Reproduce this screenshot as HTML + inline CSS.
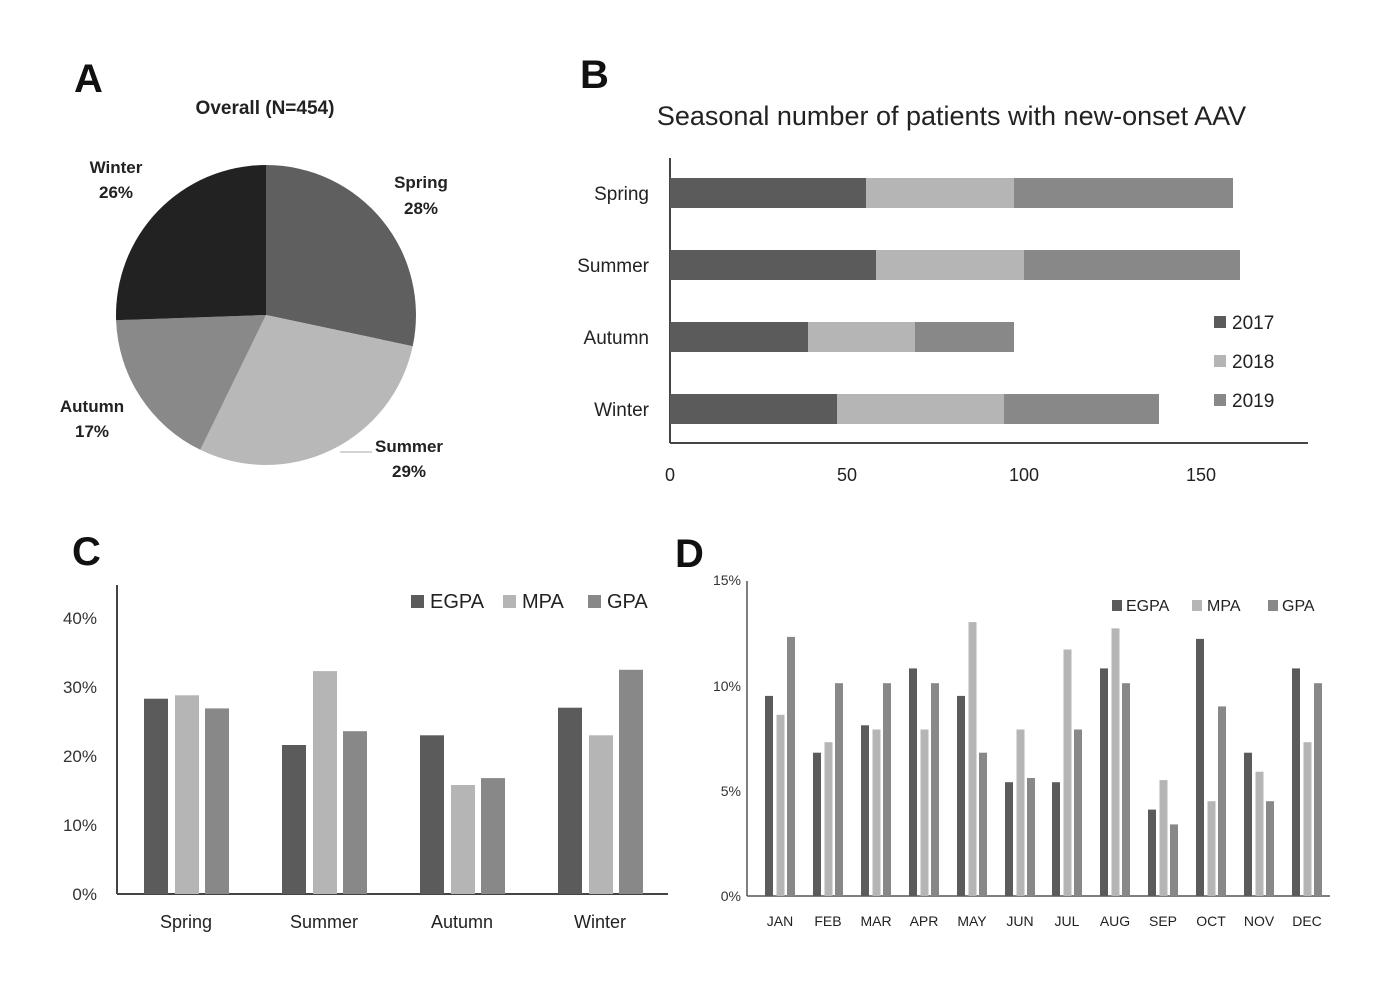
<!DOCTYPE html>
<html><head><meta charset="utf-8"><style>body{margin:0;background:#fff}svg{display:block}text{font-family:"Liberation Sans",sans-serif}</style></head>
<body>
<svg width="1381" height="981" viewBox="0 0 1381 981" xmlns="http://www.w3.org/2000/svg">
<rect width="1381" height="981" fill="#fff"/>
<!-- A -->
<text x="74" y="92" font-size="40" font-weight="bold" fill="#111">A</text>
<text x="265" y="114" font-size="19" font-weight="bold" text-anchor="middle" fill="#222">Overall (N=454)</text>
<path d="M266 315 L266 165 A150 150 0 0 1 412.7 346.2 Z" fill="#5f5f5f"/>
<path d="M266 315 L412.7 346.2 A150 150 0 0 1 200.3 449.8 Z" fill="#b8b8b8"/>
<path d="M266 315 L200.3 449.8 A150 150 0 0 1 116.1 320.2 Z" fill="#898989"/>
<path d="M266 315 L116.1 320.2 A150 150 0 0 1 266 165 Z" fill="#222"/>
<line x1="340" y1="452" x2="372" y2="452" stroke="#aaa" stroke-width="1"/>
<g font-size="17" font-weight="bold" fill="#222" text-anchor="middle">
<text x="116" y="173">Winter</text><text x="116" y="198">26%</text>
<text x="421" y="188">Spring</text><text x="421" y="214">28%</text>
<text x="92" y="412">Autumn</text><text x="92" y="437">17%</text>
<text x="409" y="452">Summer</text><text x="409" y="477">29%</text>
</g>
<!-- B -->
<text x="580" y="88" font-size="40" font-weight="bold" fill="#111">B</text>
<text x="951.5" y="125" font-size="27" text-anchor="middle" fill="#222">Seasonal number of patients with new-onset AAV</text>
<line x1="670" y1="158" x2="670" y2="443" stroke="#444" stroke-width="2"/>
<line x1="670" y1="443" x2="1308" y2="443" stroke="#444" stroke-width="2"/>
<g>
<rect x="670" y="178" width="196" height="30" fill="#5b5b5b"/><rect x="866" y="178" width="148" height="30" fill="#b5b5b5"/><rect x="1014" y="178" width="219" height="30" fill="#888"/>
<rect x="670" y="250" width="206" height="30" fill="#5b5b5b"/><rect x="876" y="250" width="148" height="30" fill="#b5b5b5"/><rect x="1024" y="250" width="216" height="30" fill="#888"/>
<rect x="670" y="322" width="138" height="30" fill="#5b5b5b"/><rect x="808" y="322" width="107" height="30" fill="#b5b5b5"/><rect x="915" y="322" width="99" height="30" fill="#888"/>
<rect x="670" y="394" width="167" height="30" fill="#5b5b5b"/><rect x="837" y="394" width="167" height="30" fill="#b5b5b5"/><rect x="1004" y="394" width="155" height="30" fill="#888"/>
</g>
<g font-size="19" fill="#222" text-anchor="end">
<text x="649" y="200">Spring</text><text x="649" y="272">Summer</text><text x="649" y="344">Autumn</text><text x="649" y="416">Winter</text>
</g>
<g font-size="18" fill="#222" text-anchor="middle">
<text x="670" y="481">0</text><text x="847" y="481">50</text><text x="1024" y="481">100</text><text x="1201" y="481">150</text>
</g>
<rect x="1214" y="316" width="12" height="12" fill="#5b5b5b"/><text x="1232" y="329" font-size="19" fill="#222">2017</text>
<rect x="1214" y="355" width="12" height="12" fill="#b5b5b5"/><text x="1232" y="368" font-size="19" fill="#222">2018</text>
<rect x="1214" y="394" width="12" height="12" fill="#888"/><text x="1232" y="407" font-size="19" fill="#222">2019</text>
<!-- C -->
<text x="72" y="565" font-size="40" font-weight="bold" fill="#111">C</text>
<line x1="117" y1="585" x2="117" y2="894" stroke="#444" stroke-width="2"/>
<line x1="117" y1="894" x2="668" y2="894" stroke="#444" stroke-width="2"/>
<g font-size="17" fill="#333" text-anchor="end">
<text x="97" y="900">0%</text><text x="97" y="831">10%</text><text x="97" y="762">20%</text><text x="97" y="693">30%</text><text x="97" y="624">40%</text>
</g>
<g>
<rect x="144" y="698.7" width="24" height="195.3" fill="#5b5b5b"/><rect x="175" y="695.3" width="24" height="198.7" fill="#b5b5b5"/><rect x="205" y="708.4" width="24" height="185.6" fill="#888"/>
<rect x="282" y="745" width="24" height="149" fill="#5b5b5b"/><rect x="313" y="671.1" width="24" height="222.9" fill="#b5b5b5"/><rect x="343" y="731.2" width="24" height="162.8" fill="#888"/>
<rect x="420" y="735.3" width="24" height="158.7" fill="#5b5b5b"/><rect x="451" y="785" width="24" height="109" fill="#b5b5b5"/><rect x="481" y="778.1" width="24" height="115.9" fill="#888"/>
<rect x="558" y="707.7" width="24" height="186.3" fill="#5b5b5b"/><rect x="589" y="735.3" width="24" height="158.7" fill="#b5b5b5"/><rect x="619" y="669.8" width="24" height="224.2" fill="#888"/>
</g>
<g font-size="18" fill="#222" text-anchor="middle">
<text x="186" y="928">Spring</text><text x="324" y="928">Summer</text><text x="462" y="928">Autumn</text><text x="600" y="928">Winter</text>
</g>
<rect x="411" y="595" width="13" height="13" fill="#5b5b5b"/><text x="430" y="608" font-size="20" fill="#222">EGPA</text>
<rect x="503" y="595" width="13" height="13" fill="#b5b5b5"/><text x="522" y="608" font-size="20" fill="#222">MPA</text>
<rect x="588" y="595" width="13" height="13" fill="#888"/><text x="607" y="608" font-size="20" fill="#222">GPA</text>
<!-- D -->
<text x="675" y="567" font-size="40" font-weight="bold" fill="#111">D</text>
<line x1="747" y1="581" x2="747" y2="896" stroke="#555" stroke-width="1.5"/>
<line x1="747" y1="896" x2="1330" y2="896" stroke="#555" stroke-width="1.5"/>
<g font-size="14" fill="#333" text-anchor="end">
<text x="741" y="901">0%</text><text x="741" y="796">5%</text><text x="741" y="691">10%</text><text x="741" y="585">15%</text>
</g>
<g font-size="14" fill="#222" text-anchor="middle">
<text x="780" y="926">JAN</text><text x="828" y="926">FEB</text><text x="876" y="926">MAR</text><text x="924" y="926">APR</text><text x="972" y="926">MAY</text><text x="1020" y="926">JUN</text><text x="1067" y="926">JUL</text><text x="1115" y="926">AUG</text><text x="1163" y="926">SEP</text><text x="1211" y="926">OCT</text><text x="1259" y="926">NOV</text><text x="1307" y="926">DEC</text>
</g>
<rect x="1112" y="600" width="10" height="11" fill="#5b5b5b"/><text x="1126" y="611" font-size="16" fill="#222">EGPA</text>
<rect x="1192" y="600" width="10" height="11" fill="#b5b5b5"/><text x="1207" y="611" font-size="16" fill="#222">MPA</text>
<rect x="1268" y="600" width="10" height="11" fill="#888"/><text x="1282" y="611" font-size="16" fill="#222">GPA</text>
<g>
<rect x="765" y="695.9" width="8" height="200.1" fill="#5b5b5b"/><rect x="776.5" y="714.8" width="8" height="181.2" fill="#b5b5b5"/><rect x="787" y="636.9" width="8" height="259.1" fill="#888"/>
<rect x="813" y="752.7" width="8" height="143.3" fill="#5b5b5b"/><rect x="824.5" y="742.2" width="8" height="153.8" fill="#b5b5b5"/><rect x="835" y="683.2" width="8" height="212.8" fill="#888"/>
<rect x="861" y="725.3" width="8" height="170.7" fill="#5b5b5b"/><rect x="872.5" y="729.5" width="8" height="166.5" fill="#b5b5b5"/><rect x="883" y="683.2" width="8" height="212.8" fill="#888"/>
<rect x="909" y="668.4" width="8" height="227.6" fill="#5b5b5b"/><rect x="920.5" y="729.5" width="8" height="166.5" fill="#b5b5b5"/><rect x="931" y="683.2" width="8" height="212.8" fill="#888"/>
<rect x="957" y="695.9" width="8" height="200.1" fill="#5b5b5b"/><rect x="968.5" y="622.1" width="8" height="273.9" fill="#b5b5b5"/><rect x="979" y="752.7" width="8" height="143.3" fill="#888"/>
<rect x="1005" y="782.2" width="8" height="113.8" fill="#5b5b5b"/><rect x="1016.5" y="729.5" width="8" height="166.5" fill="#b5b5b5"/><rect x="1027" y="778" width="8" height="118" fill="#888"/>
<rect x="1052" y="782.2" width="8" height="113.8" fill="#5b5b5b"/><rect x="1063.5" y="649.5" width="8" height="246.5" fill="#b5b5b5"/><rect x="1074" y="729.5" width="8" height="166.5" fill="#888"/>
<rect x="1100" y="668.4" width="8" height="227.6" fill="#5b5b5b"/><rect x="1111.5" y="628.4" width="8" height="267.6" fill="#b5b5b5"/><rect x="1122" y="683.2" width="8" height="212.8" fill="#888"/>
<rect x="1148" y="809.6" width="8" height="86.4" fill="#5b5b5b"/><rect x="1159.5" y="780.1" width="8" height="115.9" fill="#b5b5b5"/><rect x="1170" y="824.4" width="8" height="71.6" fill="#888"/>
<rect x="1196" y="638.9" width="8" height="257.1" fill="#5b5b5b"/><rect x="1207.5" y="801.2" width="8" height="94.8" fill="#b5b5b5"/><rect x="1218" y="706.4" width="8" height="189.6" fill="#888"/>
<rect x="1244" y="752.7" width="8" height="143.3" fill="#5b5b5b"/><rect x="1255.5" y="771.7" width="8" height="124.3" fill="#b5b5b5"/><rect x="1266" y="801.2" width="8" height="94.8" fill="#888"/>
<rect x="1292" y="668.4" width="8" height="227.6" fill="#5b5b5b"/><rect x="1303.5" y="742.2" width="8" height="153.8" fill="#b5b5b5"/><rect x="1314" y="683.2" width="8" height="212.8" fill="#888"/>
</g>
</svg>
</body></html>
